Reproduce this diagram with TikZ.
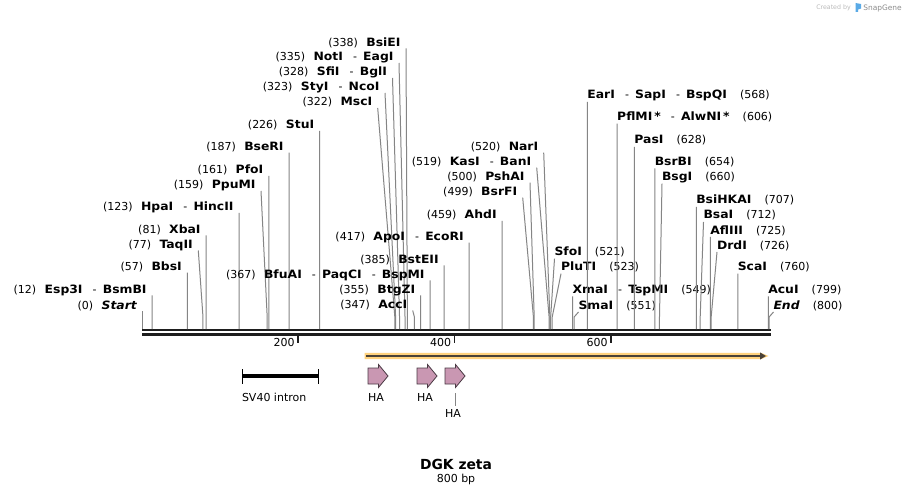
\documentclass[tikz,border=0pt]{standalone}
\usepackage{fontspec}
\setmainfont{DejaVu Sans}
\newfontfamily\namefam{DejaVu Sans}[FakeStretch=1.08]
\usetikzlibrary{arrows.meta}
\definecolor{sitegray}{HTML}{858585}
\definecolor{bbone}{HTML}{1E1E1E}
\definecolor{orfband}{HTML}{FFD27E}
\definecolor{orfline}{HTML}{4A4238}
\definecolor{hafill}{RGB}{201,151,178}
\definecolor{haedge}{HTML}{4A3A44}
\definecolor{wmgray}{HTML}{BBBBBB}
\definecolor{wmblue}{HTML}{5AAAE6}
\newcommand\numf{\normalfont\fontsize{8.25}{10}\selectfont}
\newcommand\namef{\namefam\fontsize{8.6}{10}\selectfont\bfseries}
\newcommand\sepr{{\numf\hspace{7.6pt}-\hspace{4.6pt}}}
\newcommand\lsite[4]{%
  \node[lbl, anchor=base east] (site#3) at (#2-5.5,#1) {{\numf(#3)}\hspace{6.3pt}{\namef #4}};
  \coordinate (top#3) at (#2,#1+2);
  \coordinate (bend#3) at ({142.7+0.783*#3},317);
  \coordinate (foot#3) at ({142.7+0.783*#3},329);
  \draw[site] (top#3) -- (bend#3) -- (foot#3);
}
\newcommand\rsite[4]{%
  \node[lbl, anchor=base west] (site#3) at (#2,#1) {{\namef #4}\hspace{9.8pt}{\numf(#3)}};
  \coordinate (top#3) at (#2,#1+3);
  \coordinate (bend#3) at ({142.7+0.783*#3},317);
  \coordinate (foot#3) at ({142.7+0.783*#3},329);
  \draw[site] (top#3) -- (bend#3) -- (foot#3);
}
\begin{document}
\begin{tikzpicture}[x=0.75pt,y=-0.75pt,
  lbl/.style={inner sep=0pt,outer sep=0pt},
  site/.style={draw=sitegray,line width=0.75pt},
  bb/.style={draw=bbone,line width=1.85pt},
  tickmark/.style={draw=bbone,line width=1.1pt},
  plain/.style={inner sep=0pt,outer sep=0pt,font=\numf},
  haarrow/.style={fill=hafill,draw=haedge,line width=0.6pt,line join=miter}]
\useasboundingbox[fill=white] (0,0) rectangle (913,495);

% backbone
\coordinate (bbL1) at (142.3,330.2);
\coordinate (bbR1) at (770.6,330.2);
\coordinate (bbL2) at (142.3,334.6);
\coordinate (bbR2) at (770.6,334.6);
\draw[bb] (bbL1) -- (bbR1);
\draw[bb] (bbL2) -- (bbR2);

% ticks
\foreach \tx/\tl in {298/200,454.5/400,611/600}{
  \coordinate (tk\tl a) at (\tx,335.5);
  \coordinate (tk\tl b) at (\tx,343);
  \draw[tickmark] (tk\tl a) -- (tk\tl b);
  \node[plain, anchor=base east] (tl\tl) at (\tx-3.5,346) {\tl};
}

% sites, left labels
\lsite{309}{142.7}{0}{\textit{Start}}
\lsite{293.3}{152.1}{12}{Esp3I\sepr BsmBI}
\lsite{270.7}{187.3}{57}{BbsI}
\lsite{248.5}{198.3}{77}{TaqII}
\lsite{233.5}{206.1}{81}{XbaI}
\lsite{211}{239}{123}{HpaI\sepr HincII}
\lsite{189}{261}{159}{PpuMI}
\lsite{174}{268.8}{161}{PfoI}
\lsite{150.7}{289.1}{187}{BseRI}
\lsite{129}{319.7}{226}{StuI}
\lsite{106}{377.7}{322}{MscI}
\lsite{91}{385}{323}{StyI\sepr NcoI}
\lsite{76}{392.5}{328}{SfiI\sepr BglI}
\lsite{61}{399}{335}{NotI\sepr EagI}
\lsite{46.5}{406}{338}{BsiEI}
\lsite{308.5}{412.7}{347}{AccI}
\lsite{293.3}{420.7}{355}{BtgZI}
\lsite{278.3}{430.1}{367}{BfuAI\sepr PaqCI\sepr BspMI}
\lsite{263.3}{444.2}{385}{BstEII}
\lsite{240.7}{469.2}{417}{ApoI\sepr EcoRI}
\lsite{219}{502.1}{459}{AhdI}
\lsite{195.7}{522.7}{499}{BsrFI}
\lsite{180.7}{530}{500}{PshAI}
\lsite{165.7}{536.7}{519}{KasI\sepr BanI}
\lsite{150.7}{543.7}{520}{NarI}

% sites, right labels
\rsite{255.7}{554.5}{521}{SfoI}
\rsite{270.7}{561}{523}{PluTI}
\rsite{293.3}{572.6}{549}{XmaI\sepr TspMI}
\rsite{309}{578.5}{551}{SmaI}
\rsite{99}{587.4}{568}{EarI\sepr SapI\sepr BspQI}
\rsite{120.7}{617.2}{606}{PflMI\,*\sepr AlwNI\,*}
\rsite{144}{634.4}{628}{PasI}
\rsite{165.3}{654.8}{654}{BsrBI}
\rsite{180.7}{662}{660}{BsgI}
\rsite{204}{696.3}{707}{BsiHKAI}
\rsite{219}{703.5}{712}{BsaI}
\rsite{234}{710.4}{725}{AflIII}
\rsite{249}{717}{726}{DrdI}
\rsite{270.7}{737.8}{760}{ScaI}
\rsite{293.3}{768.3}{799}{AcuI}
\rsite{309}{773.5}{800}{\textit{End}}

% ORF arrow
\fill[orfband] (364.5,352.8) -- (761,352.8) -- (768.5,356) -- (761,359.2) -- (364.5,359.2) -- cycle;
\coordinate (orfS) at (366,356);
\coordinate (orfE) at (766,356);
\draw[orfline,line width=1.5pt,-{Triangle[length=4.5pt,width=5pt]}] (orfS) -- (orfE);

% SV40 intron
\coordinate (svL) at (242.5,376);
\coordinate (svR) at (318,376);
\draw[black,line width=3.6pt] (svL) -- (svR);
\draw[black,line width=0.75pt] (242.5,369) -- (242.5,384) (318,369) -- (318,384);
\node[plain, anchor=base west] (svlbl) at (242,401.5) {SV40 intron};

% HA features
\foreach \hx/\hn in {368/1,417/2,445/3}{
  \draw[haarrow] (\hx,368) -- (\hx+10.5,368) -- (\hx+10.5,364.5) -- (\hx+20,376)
     -- (\hx+10.5,387.5) -- (\hx+10.5,384) -- (\hx,384) -- cycle;
}
\node[plain, anchor=base west] (ha1) at (368,401.5) {HA};
\node[plain, anchor=base west] (ha2) at (417,401.5) {HA};
\coordinate (ha3a) at (455,393);
\coordinate (ha3b) at (455,405.5);
\draw[site] (ha3a) -- (ha3b);
\node[plain, anchor=base west] (ha3) at (445,417.5) {HA};

% title
\node[inner sep=0pt, anchor=base, font=\fontsize{10.4}{12}\selectfont\bfseries] (title) at (456,469.3) {DGK zeta};
\node[plain, anchor=base] (bp) at (456,482.5) {800 bp};

% watermark
\node[inner sep=0pt, anchor=base west, text=wmgray, font=\fontsize{4.7}{5}\selectfont] (wm1) at (816,10) {Created by};
\fill[wmblue] (855.5,3) -- (861,4) -- (861,8.5) -- (858,9.5) -- (858,12) -- (855.5,12) -- cycle;
\node[inner sep=0pt, anchor=base west, text=black!45, font=\fontsize{5.6}{6}\selectfont] (wm2) at (863,10.5) {SnapGene};
\end{tikzpicture}
\end{document}
